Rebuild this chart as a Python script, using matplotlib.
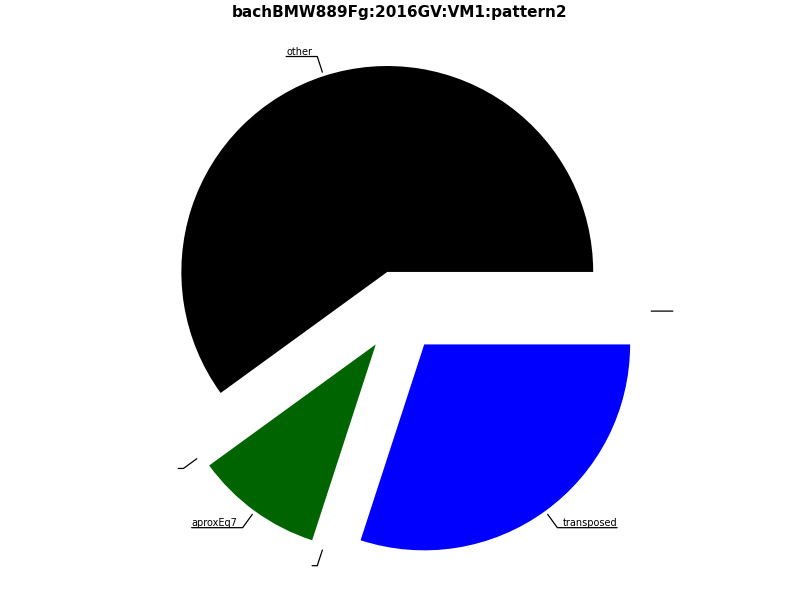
import numpy as np
import matplotlib
matplotlib.use("Agg")
import matplotlib.pyplot as plt

# slices (zero-size ones carry empty labels)
labels = ["other", "", "aproxEq7", "", "transposed", ""]
sizes = [0.6, 0.0, 0.1, 0.0, 0.3, 0.0]
colors = ["black", "white", "darkgreen", "white", "blue", "white"]
title = "bachBMW889Fg:2016GV:VM1:pattern2"

fig = plt.figure(figsize=(8, 6), dpi=100)
ax = fig.add_axes([0.178, 0.0525, 0.644, 0.858])

wedges, _ = ax.pie(sizes, colors=colors, explode=[0.2] * len(sizes),
                   startangle=0, counterclock=True)

# leader lines + labels
for w, lab in zip(wedges, labels):
    ang = np.deg2rad((w.theta1 + w.theta2) / 2)
    d = np.array([np.cos(ang), np.sin(ang)])
    tip = 1.22 * d
    knee = 1.3 * d
    side = 1 if d[0] >= -1e-9 else -1
    tx = knee[0] + side * 0.025
    if abs(d[1]) < 1e-6:
        conn = "arc3,rad=0"
    else:
        conn = "angle,angleA=0,angleB=%.2f" % np.rad2deg(ang)
    ax.annotate(lab, xy=tip, xytext=(tx, knee[1]),
                ha="left" if side > 0 else "right", va="bottom",
                fontsize=7,
                arrowprops=dict(arrowstyle="-", patchA=None, lw=0.9,
                                shrinkA=0, shrinkB=0,
                                relpos=(1, 0) if side > 0 else (0, 0),
                                connectionstyle=conn),
                annotation_clip=False)

fig.suptitle(title, fontsize=11, fontweight="bold", y=0.992)
fig.savefig("out.png")
